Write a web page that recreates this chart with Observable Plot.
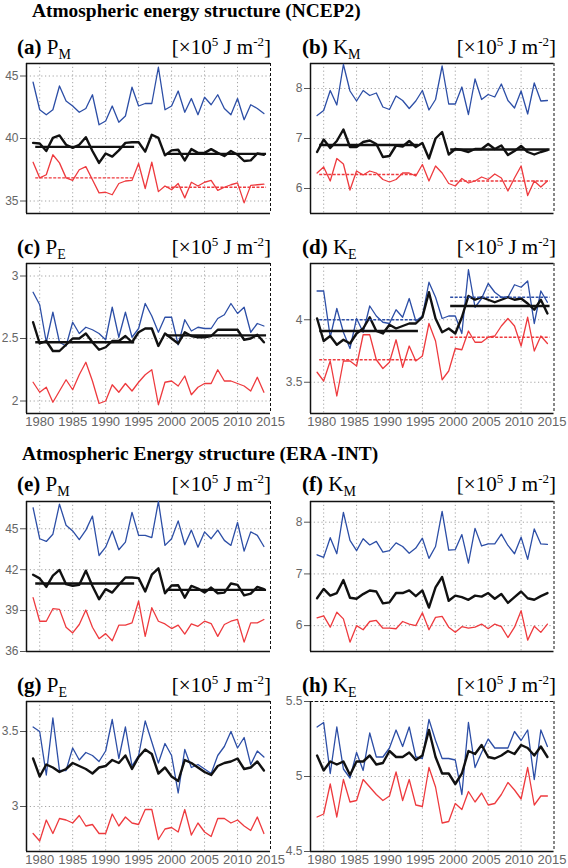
<!DOCTYPE html>
<html><head><meta charset="utf-8">
<script src="https://cdn.jsdelivr.net/npm/d3@7"></script>
<script src="https://cdn.jsdelivr.net/npm/@observablehq/plot@0.6"></script>
<style>
body{margin:0;background:#fff;}
#root{position:relative;width:568px;height:868px;overflow:hidden;font-family:"Liberation Serif","Times New Roman",serif;color:#000;}
.title{position:absolute;font-weight:bold;font-size:19.4px;line-height:20px;white-space:nowrap;}
.lab{position:absolute;font-size:21px;line-height:21px;white-space:nowrap;}
.lab sub{font-size:14px;vertical-align:-5px;line-height:0;}
.lab sup{font-size:13px;vertical-align:8px;line-height:0;}
.panel{position:absolute;}
</style></head><body><div id="root"></div>
<script>
const years = [1979,1980,1981,1982,1983,1984,1985,1986,1987,1988,1989,1990,1991,1992,1993,1994,1995,1996,1997,1998,1999,2000,2001,2002,2003,2004,2005,2006,2007,2008,2009,2010,2011,2012,2013,2014];
const xTicks = [1980,1985,1990,1995,2000,2005,2010,2015];
const xGrid = [1980,1985,1990,1995,2000,2005,2010];
const xDomain = [1978, 2015];
const trendPeriods = [[1979.4, 1994.4], [1999.3, 2014.4]];

// (a) NCEP2 P_M
const aBlue  = [44.5,42.3,41.9,42.3,44.2,43.0,42.6,42.1,42.4,43.5,41.1,41.4,42.6,41.3,41.8,44.1,42.6,42.8,42.8,45.7,42.3,42.6,43.8,42.1,43.2,41.9,43.3,42.7,43.5,42.4,41.9,43.2,41.5,42.7,42.4,42.0];
const aBlack = [39.65,39.6,39.0,40.05,40.25,39.5,39.25,39.5,40.1,39.0,38.05,38.8,38.55,39.05,39.65,39.7,39.7,38.95,40.3,40.05,38.65,39.05,39.1,38.25,39.15,38.85,38.85,39.15,38.85,38.6,39.0,38.7,38.2,38.25,38.8,38.7];
const aRed   = [38.1,36.85,37.1,38.7,38.05,36.85,36.65,37.5,37.75,36.7,35.65,35.7,35.5,36.4,36.6,36.65,38.0,36.0,38.1,35.75,36.2,35.9,36.4,35.25,36.5,36.2,36.5,36.65,35.85,36.1,36.3,36.45,34.85,36.25,36.3,36.35];
const aTrendBlack = [39.33, 38.77];
const aTrendRed = [36.85, 36.10];

// (b) NCEP2 K_M
const bBlue  = [7.46,7.56,7.96,7.67,8.48,7.95,7.75,7.96,7.86,7.91,7.63,7.58,7.85,7.76,7.6,7.75,7.96,7.57,7.78,8.45,7.69,7.69,8.03,7.48,8.19,7.78,7.88,7.83,8.09,7.76,7.61,7.95,7.49,8.11,7.75,7.76];
const bBlack = [6.73,6.98,6.81,6.95,7.18,6.83,6.83,6.93,6.96,6.89,6.63,6.65,6.86,6.84,6.95,6.83,6.91,6.6,7.0,7.13,6.68,6.79,6.77,6.73,6.79,6.79,6.89,6.79,6.86,6.67,6.75,6.85,6.73,6.68,6.73,6.77];
const bRed   = [6.31,6.43,6.15,6.6,6.49,5.97,6.35,6.27,6.35,6.31,6.18,6.13,6.18,6.31,6.31,6.25,6.48,6.15,6.45,6.31,6.1,6.05,6.2,6.11,6.15,6.23,6.18,6.29,6.21,5.95,6.21,6.45,5.86,6.15,6.03,6.15];
const bTrendBlack = [6.87, 6.78];
const bTrendRed = [6.28, 6.15];

// (c) NCEP2 P_E
const cBlue  = [2.87,2.77,2.47,2.71,2.47,2.44,2.63,2.54,2.59,2.57,2.54,2.49,2.75,2.51,2.71,2.51,2.58,2.78,2.68,2.55,2.67,2.67,2.45,2.65,2.56,2.59,2.58,2.58,2.66,2.69,2.78,2.70,2.75,2.55,2.62,2.60];
const cBlack = [2.63,2.46,2.48,2.40,2.40,2.45,2.50,2.50,2.54,2.47,2.41,2.43,2.48,2.48,2.52,2.47,2.55,2.58,2.58,2.44,2.54,2.50,2.46,2.55,2.52,2.51,2.51,2.52,2.57,2.57,2.57,2.57,2.49,2.50,2.53,2.47];
const cRed   = [2.15,2.07,2.11,1.99,2.08,2.17,2.09,2.21,2.31,2.16,1.98,2.0,2.13,2.07,2.14,2.08,2.15,2.21,2.25,1.97,2.15,2.16,2.12,2.2,2.05,2.11,2.14,2.14,2.25,2.16,2.16,2.14,2.12,2.08,2.19,2.07];
const cTrendBlack = [2.47, 2.525];

// (d) NCEP2 K_E
const dBlue  = [4.23,4.23,3.86,4.09,3.90,3.77,4.01,3.90,4.11,4.03,3.98,3.97,4.08,4.02,4.17,3.99,4.03,4.30,4.18,4.01,4.03,4.03,3.89,4.40,4.10,4.17,4.29,4.22,4.18,4.18,4.28,4.26,4.31,3.97,4.23,4.14];
const dBlack = [4.01,3.83,3.87,3.80,3.84,3.81,3.89,3.93,4.02,3.91,3.89,3.96,3.93,3.95,3.97,3.97,4.02,4.22,4.01,3.90,3.93,3.89,4.02,4.19,4.16,4.18,4.16,4.14,4.16,4.18,4.16,4.17,4.13,4.08,4.16,4.05];
const dRed   = [3.58,3.51,3.67,3.39,3.67,3.67,3.63,3.88,3.88,3.68,3.61,3.66,3.84,3.62,3.79,3.67,3.71,3.97,3.83,3.52,3.59,3.77,3.76,3.91,3.82,3.82,3.86,3.87,3.95,4.01,3.95,3.79,4.02,3.75,3.87,3.81];
const dTrendBlue = [4.00, 4.18];
const dTrendBlack = [3.91, 4.11];
const dTrendRed = [3.68, 3.86];

// (e) ERA-INT P_M
const eBlue  = [46.54,44.27,44.07,44.6,46.8,45.26,44.84,44.2,44.9,45.93,43.04,43.65,44.84,43.46,44.02,46.2,44.52,44.52,44.35,47.0,43.78,44.27,45.58,43.83,44.9,43.65,44.77,44.27,44.9,44.15,43.78,45.46,43.36,44.77,44.52,43.7];
const eBlack = [41.63,41.36,40.74,41.56,41.98,40.94,40.81,40.89,41.93,40.81,39.83,40.57,40.32,40.89,41.43,41.43,41.38,40.4,41.63,42.1,40.27,40.84,40.86,39.95,40.81,40.62,40.32,40.69,40.27,40.32,40.99,40.89,40.12,40.25,40.74,40.57];
const eRed   = [39.95,38.22,38.22,39.14,39.09,37.78,37.36,37.98,39.04,37.78,36.94,37.31,36.79,37.93,37.93,38.1,39.7,37.11,39.21,38.22,38.02,37.68,37.93,37.28,38.02,37.85,38.22,38.05,37.11,37.98,38.22,38.35,36.69,38.1,38.1,38.35];
const eTrendBlack = [40.99, 40.52];

// (f) ERA-INT K_M
const fBlue  = [7.37,7.32,7.70,7.39,8.19,7.65,7.45,7.68,7.56,7.63,7.42,7.45,7.6,7.53,7.4,7.5,7.69,7.3,7.53,8.21,7.46,7.47,7.76,7.21,7.88,7.54,7.58,7.58,7.77,7.55,7.39,7.71,7.28,7.87,7.58,7.57];
const fBlack = [6.53,6.71,6.58,6.63,6.88,6.54,6.52,6.61,6.68,6.66,6.43,6.45,6.63,6.63,6.68,6.57,6.68,6.35,6.74,6.94,6.48,6.58,6.55,6.5,6.58,6.56,6.63,6.52,6.61,6.44,6.55,6.66,6.53,6.5,6.57,6.63];
const fRed   = [6.15,6.19,5.97,6.26,6.13,5.68,6.0,5.92,6.08,6.1,5.95,5.95,5.94,6.08,6.03,6.0,6.25,5.92,6.16,6.18,5.97,5.87,5.98,5.95,5.97,6.03,5.94,6.03,5.98,5.77,5.97,6.29,5.72,5.99,5.87,6.03];

// (g) ERA-INT P_E
const gBlue  = [3.53,3.5,3.21,3.59,3.24,3.24,3.39,3.31,3.36,3.34,3.3,3.37,3.58,3.32,3.53,3.27,3.34,3.57,3.43,3.29,3.42,3.34,3.09,3.38,3.26,3.28,3.25,3.22,3.34,3.4,3.5,3.39,3.46,3.28,3.37,3.33];
const gBlack = [3.32,3.2,3.28,3.26,3.23,3.25,3.29,3.27,3.25,3.22,3.26,3.27,3.31,3.29,3.34,3.25,3.33,3.38,3.35,3.22,3.26,3.2,3.17,3.31,3.29,3.26,3.23,3.21,3.27,3.29,3.3,3.32,3.25,3.26,3.3,3.24];
const gRed   = [2.82,2.77,2.91,2.82,2.92,2.91,2.89,2.94,2.87,2.88,2.82,2.82,2.95,2.87,2.93,2.89,2.88,2.98,2.98,2.78,2.85,2.86,2.83,2.98,2.81,2.89,2.83,2.8,2.92,2.92,2.89,2.91,2.87,2.84,2.93,2.82];

// (h) ERA-INT K_E
const hBlue  = [5.33,5.36,5.02,5.33,5.05,4.99,5.16,5.04,5.29,5.13,5.13,5.19,5.31,5.2,5.33,5.13,5.12,5.38,5.24,5.12,5.12,5.11,4.88,5.36,5.06,5.16,5.25,5.19,5.19,5.19,5.3,5.24,5.31,4.98,5.31,5.2];
const hBlack = [5.14,5.04,5.1,5.08,5.1,5.01,5.1,5.1,5.14,5.08,5.09,5.17,5.13,5.13,5.16,5.11,5.14,5.31,5.13,5.02,5.02,4.95,5.02,5.17,5.15,5.21,5.13,5.12,5.14,5.17,5.15,5.21,5.19,5.14,5.2,5.13];
const hRed   = [4.73,4.75,4.95,4.73,4.98,4.83,4.84,4.98,4.93,4.88,4.84,4.87,5.03,4.84,4.98,4.81,4.8,5.06,4.93,4.69,4.7,4.82,4.78,4.9,4.83,4.89,4.81,4.82,4.88,4.96,4.91,4.85,5.06,4.81,4.87,4.87];

const panelLetters = ["(a)","(b)","(c)","(d)","(e)","(f)","(g)","(h)"];
const panelVars = [["P","M"],["K","M"],["P","E"],["K","E"],["P","M"],["K","M"],["P","E"],["K","E"]];
const titles = ["Atmospheric energy structure (NCEP2)", "Atmospheric Energy structure (ERA -INT)"];

const BLUE = "#2c4ea6", RED = "#ee3a3e", BLACK = "#111";

const panels = [
  {blue:aBlue, black:aBlack, red:aRed, domain:[34,46], ticks:[35,40,45], trends:[["black",aTrendBlack],["red",aTrendRed]], col:0, row:0},
  {blue:bBlue, black:bBlack, red:bRed, domain:[5.5,8.5], ticks:[6,7,8], trends:[["black",bTrendBlack],["red",bTrendRed]], col:1, row:0},
  {blue:cBlue, black:cBlack, red:cRed, domain:[1.9,3.1], ticks:[2,2.5,3], trends:[["black",cTrendBlack]], col:0, row:1, xaxis:true},
  {blue:dBlue, black:dBlack, red:dRed, domain:[3.25,4.45], ticks:[3.5,4], trends:[["blue",dTrendBlue],["black",dTrendBlack],["red",dTrendRed]], col:1, row:1, xaxis:true},
  {blue:eBlue, black:eBlack, red:eRed, domain:[36,47], ticks:[36,39,42,45], trends:[["black",eTrendBlack]], col:0, row:2},
  {blue:fBlue, black:fBlack, red:fRed, domain:[5.5,8.4], ticks:[6,7,8], trends:[], col:1, row:2},
  {blue:gBlue, black:gBlack, red:gRed, domain:[2.7,3.7], ticks:[3,3.5], trends:[], col:0, row:3, xaxis:true},
  {blue:hBlue, black:hBlack, red:hRed, domain:[4.5,5.5], ticks:[4.5,5,5.5], trends:[], col:1, row:3, xaxis:true, dashedTop:true}
];

const frameTops = [63, 263, 501, 701];
const labelTops = [37, 237, 474, 675];
const colLeft = [0, 284];
const colWidth = [285, 284];
const colMarginRight = [15, 14.5];
const labelLeft = [17, 302];
const unitRight = [297, 12];
const xLabelShift = [0, -2];

const root = document.getElementById("root");

function series(arr) { return arr.map((v, i) => ({year: years[i], v})); }

panels.forEach((p, k) => {
  const colors = {blue: BLUE, black: BLACK, red: RED};
  const trendRows = [];
  p.trends.forEach(([c, vals]) => vals.forEach((v, j) => trendRows.push({c, v, x1: trendPeriods[j][0], x2: trendPeriods[j][1]})));
  const marks = [
    Plot.gridY(p.ticks, {stroke: "#9a9a9a", strokeOpacity: 1, strokeWidth: 0.9, strokeDasharray: "1.2,2.6"}),
    Plot.gridX(xGrid, {stroke: "#9a9a9a", strokeOpacity: 1, strokeWidth: 0.9, strokeDasharray: "1.2,2.6"}),
    Plot.axisY(p.ticks, {label: null, tickSize: 6, tickPadding: 2, fontSize: 12, stroke: "#555", fill: "#666", tickFormat: d => String(d), fontFamily: "'Liberation Sans', Arial, sans-serif"}),
    Plot.ruleY([p.domain[0]], {stroke: "#111", strokeWidth: 1.5}),
    Plot.ruleY([p.domain[1]], {stroke: "#111", strokeWidth: p.dashedTop ? 1 : 1.3, strokeDasharray: p.dashedTop ? "3,2" : null}),
    Plot.ruleX([xDomain[0]], {stroke: "#111", strokeWidth: 1.5}),
    Plot.ruleX([xDomain[1]], {stroke: "#111", strokeWidth: 1, strokeDasharray: "3,2"}),
    Plot.lineY(series(p.blue), {x: "year", y: "v", stroke: BLUE, strokeWidth: 1.3}),
    Plot.lineY(series(p.red), {x: "year", y: "v", stroke: RED, strokeWidth: 1.3}),
    Plot.lineY(series(p.black), {x: "year", y: "v", stroke: BLACK, strokeWidth: 2.4}),
    Plot.ruleY(trendRows.filter(d => d.c === "black"), {y: "v", x1: "x1", x2: "x2", stroke: BLACK, strokeWidth: 2.4}),
    Plot.ruleY(trendRows.filter(d => d.c !== "black"), {y: "v", x1: "x1", x2: "x2", stroke: d => colors[d.c], strokeWidth: 1.3, strokeDasharray: "3,1.5"})
  ];
  if (p.xaxis) marks.push(Plot.axisX(xTicks, {label: null, tickSize: 0, tickPadding: 3, fontSize: 13, dx: xLabelShift[p.col], fill: "#666", tickFormat: d => String(d), fontFamily: "'Liberation Sans', Arial, sans-serif"}));
  const svg = Plot.plot({
    width: colWidth[p.col],
    height: 178,
    marginLeft: 26,
    marginRight: colMarginRight[p.col],
    marginTop: 6,
    marginBottom: 22,
    x: {domain: xDomain, axis: p.xaxis ? undefined : null},
    y: {domain: p.domain},
    style: {fontFamily: "'Liberation Sans', Arial, sans-serif", background: "transparent", overflow: "visible"},
    marks
  });
  const wrap = document.createElement("div");
  wrap.className = "panel";
  wrap.style.left = colLeft[p.col] + "px";
  wrap.style.top = (frameTops[p.row] - 6) + "px";
  wrap.appendChild(svg);
  root.appendChild(wrap);

  const lab = document.createElement("div");
  lab.className = "lab";
  lab.style.left = labelLeft[p.col] + "px";
  lab.style.top = labelTops[p.row] + "px";
  lab.innerHTML = `<b>${panelLetters[k]}</b> ${panelVars[k][0]}<sub>${panelVars[k][1]}</sub>`;
  root.appendChild(lab);

  const unit = document.createElement("div");
  unit.className = "lab";
  unit.style.right = unitRight[p.col] + "px";
  unit.style.top = labelTops[p.row] + "px";
  unit.innerHTML = `[×10<sup>5</sup> J m<sup>-2</sup>]`;
  root.appendChild(unit);
});

const t1 = document.createElement("div");
t1.className = "title"; t1.style.left = "32px"; t1.style.top = "1px"; t1.textContent = titles[0];
root.appendChild(t1);
const t2 = document.createElement("div");
t2.className = "title"; t2.style.left = "22px"; t2.style.top = "444px"; t2.textContent = titles[1];
root.appendChild(t2);
</script></body></html>
